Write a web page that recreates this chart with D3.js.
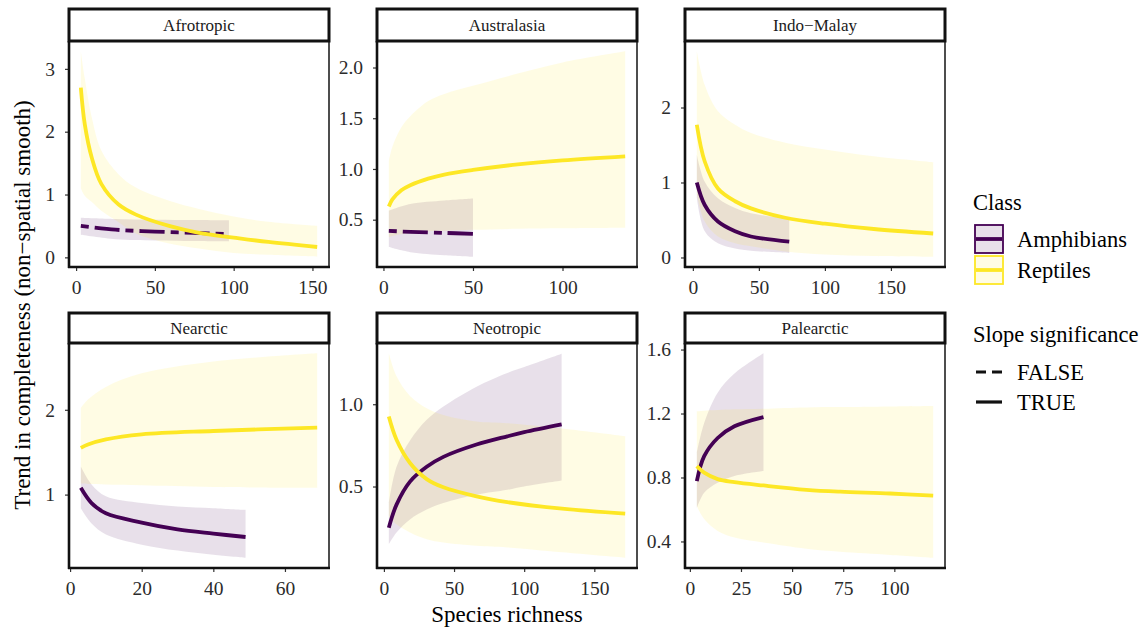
<!DOCTYPE html>
<html>
<head>
<meta charset="utf-8">
<script src="https://cdn.jsdelivr.net/npm/d3@7"></script>
<style>
  body { margin: 0; background: #fff; }
  svg text { font-family: "Liberation Serif", "DejaVu Serif", serif; }
</style>
</head>
<body>
<svg id="chart" width="1148" height="629"></svg>
<script>
// region names (facet order)
const regions = ["Afrotropic", "Australasia", "Indo\u2212Malay", "Nearctic", "Neotropic", "Palearctic"];
const classes = ["Amphibians", "Reptiles"];

// each row: [species richness, fit, lower, upper]
const afroAmph = [[3, 0.50, 0.36, 0.63], [25, 0.44, 0.29, 0.61], [50, 0.41, 0.27, 0.60], [75, 0.39, 0.26, 0.595], [97, 0.37, 0.255, 0.59]];
const afroRept = [[3, 2.70, 1.10, 3.28], [5.5, 2.12, 0.98, 2.85], [10, 1.58, 0.88, 2.22], [16, 1.17, 0.74, 1.70], [27, 0.84, 0.56, 1.32],
                  [38, 0.68, 0.38, 1.11], [59, 0.50, 0.22, 0.90], [78, 0.39, 0.14, 0.77], [100, 0.315, 0.07, 0.65], [122, 0.245, 0.04, 0.565], [153, 0.165, 0.01, 0.50]];

const austAmph = [[3, 0.39, 0.23, 0.59], [15, 0.38, 0.18, 0.655], [34, 0.37, 0.15, 0.69], [50, 0.36, 0.135, 0.71]];
const austRept = [[3, 0.63, 0.33, 1.08], [5, 0.70, 0.34, 1.22], [10, 0.79, 0.36, 1.41], [15, 0.84, 0.37, 1.52], [25, 0.905, 0.385, 1.67], [34, 0.945, 0.39, 1.74],
                  [50, 0.99, 0.40, 1.82], [75, 1.045, 0.41, 1.94], [100, 1.085, 0.415, 2.05], [135, 1.125, 0.42, 2.16]];

const indoAmph = [[3, 1.00, 0.80, 1.37], [9, 0.70, 0.35, 1.01], [19, 0.48, 0.19, 0.79], [32, 0.35, 0.12, 0.66], [44, 0.28, 0.09, 0.59], [73, 0.21, 0.06, 0.52]];
const indoRept = [[3, 1.77, 0.84, 2.75], [9, 1.28, 0.48, 2.30], [19, 0.92, 0.28, 1.95], [32, 0.75, 0.19, 1.77], [44, 0.655, 0.15, 1.66],
                  [70, 0.53, 0.08, 1.53], [100, 0.45, 0.04, 1.44], [137, 0.38, 0.02, 1.35], [182, 0.32, 0.01, 1.27]];

const nearAmph = [[3, 1.08, 0.84, 1.33], [6, 0.90, 0.66, 1.12], [10, 0.78, 0.53, 0.98], [20, 0.67, 0.41, 0.90], [30, 0.59, 0.34, 0.86], [40, 0.54, 0.29, 0.84], [49, 0.50, 0.255, 0.82]];
const nearRept = [[3, 1.55, 1.13, 2.02], [5, 1.59, 1.125, 2.12], [10, 1.65, 1.12, 2.27], [20, 1.71, 1.11, 2.43], [40, 1.75, 1.09, 2.57], [69, 1.79, 1.08, 2.667]];

const neoAmph = [[3.5, 0.25, 0.149, 0.40], [9, 0.39, 0.22, 0.62], [18.6, 0.53, 0.30, 0.78], [30.5, 0.62, 0.36, 0.905], [42.4, 0.68, 0.40, 0.986],
                 [66, 0.755, 0.45, 1.107], [88, 0.805, 0.48, 1.19], [100, 0.83, 0.50, 1.226], [126.7, 0.877, 0.536, 1.307]];
const neoRept = [[3.5, 0.925, 0.32, 1.31], [9, 0.784, 0.27, 1.17], [18.6, 0.643, 0.22, 1.05], [30.5, 0.545, 0.18, 0.976], [42.4, 0.495, 0.16, 0.935],
                 [66, 0.44, 0.14, 0.895], [88, 0.405, 0.13, 0.885], [127, 0.365, 0.10, 0.853], [172, 0.335, 0.067, 0.806]];

const paleAmph = [[3.4, 0.777, 0.61, 0.954], [7, 0.933, 0.705, 1.14], [13.6, 1.047, 0.767, 1.33], [21.8, 1.12, 0.809, 1.45], [36, 1.178, 0.84, 1.577]];
const paleRept = [[3.4, 0.871, 0.62, 1.214], [7, 0.83, 0.54, 1.218], [13.6, 0.79, 0.466, 1.222], [21.8, 0.771, 0.424, 1.226], [36, 0.75, 0.393, 1.23],
                  [57, 0.723, 0.354, 1.238], [73.5, 0.711, 0.335, 1.24], [98, 0.70, 0.316, 1.244], [119, 0.686, 0.298, 1.247]];

const amphibians = [afroAmph, austAmph, indoAmph, nearAmph, neoAmph, paleAmph];
const reptiles = [afroRept, austRept, indoRept, nearRept, neoRept, paleRept];
const amphSignificant = [false, false, true, true, true, true];
const reptSignificant = [true, true, true, true, true, true];

const xTicks = [[0, 50, 100, 150], [0, 50, 100], [0, 50, 100, 150], [0, 20, 40, 60], [0, 50, 100, 150], [0, 25, 50, 75, 100]];
const yTicks = [[0, 1, 2, 3], [0.5, 1.0, 1.5, 2.0], [0, 1, 2], [1, 2], [0.5, 1.0], [0.4, 0.8, 1.2, 1.6]];
const yDecimals = [false, true, false, false, true, true];

const colors = { Amphibians: "#440154", Reptiles: "#FDE725" };
const fillAlpha = 0.12;
const dashFalse = "8,6,25,6";
const serif = "'Liberation Serif', 'DejaVu Serif', serif";

const svg = d3.select("#chart");

// layout
const panelW = 260;
const colX = [69, 377, 685];
const stripTop = [9, 313];
const plotTop = [41, 343];
const plotBottom = [267, 568];

const curve = d3.curveCatmullRom.alpha(0.5);

regions.forEach((name, i) => {
    const col = i % 3, row = Math.floor(i / 3);
    const ph = plotBottom[row] - plotTop[row];
    const g = svg.append("g").attr("transform", `translate(${colX[col]},${plotTop[row]})`);

    const series = [
        { cls: "Amphibians", data: amphibians[i], sig: amphSignificant[i] },
        { cls: "Reptiles", data: reptiles[i], sig: reptSignificant[i] }
    ];
    const all = amphibians[i].concat(reptiles[i]);
    const xe = d3.extent(all, d => d[0]);
    const ye = [d3.min(all, d => d[2]), d3.max(all, d => d[3])];
    const dx = xe[1] - xe[0], dy = ye[1] - ye[0];

    const x = d3.scaleLinear().domain([xe[0] - 0.05 * dx, xe[1] + 0.05 * dx]).range([0, panelW]);
    const y = d3.scaleLinear().domain([ye[0] - 0.05 * dy, ye[1] + 0.05 * dy]).range([ph, 0]);

    const area = d3.area()
        .x(d => x(d[0])).y0(d => y(d[2])).y1(d => y(d[3]))
        .curve(curve);
    const line = d3.line()
        .x(d => x(d[0])).y(d => y(d[1]))
        .curve(curve);

    // ribbons
    series.forEach(s => {
        g.append("path")
            .datum(s.data)
            .attr("d", area)
            .attr("fill", colors[s.cls])
            .attr("fill-opacity", fillAlpha);
    });
    // fitted lines
    series.forEach(s => {
        g.append("path")
            .datum(s.data)
            .attr("d", line)
            .attr("fill", "none")
            .attr("stroke", colors[s.cls])
            .attr("stroke-width", 3.8)
            .attr("stroke-dasharray", s.sig ? null : dashFalse);
    });

    // axes
    const fmt = yDecimals[i] ? d3.format(".1f") : d3.format("d");
    const ya = g.append("g")
        .call(d3.axisLeft(y).tickValues(yTicks[i]).tickFormat(fmt).tickSize(4).tickPadding(10));
    const xa = g.append("g")
        .attr("transform", `translate(0,${ph})`)
        .call(d3.axisBottom(x).tickValues(xTicks[i]).tickSize(4).tickPadding(9));
    [ya, xa].forEach(a => {
        a.attr("font-family", serif);
        a.select(".domain").remove();
        a.selectAll(".tick line").attr("stroke", "#333").attr("stroke-width", 1.2);
        a.selectAll(".tick text")
            .attr("fill", "#2b2b2b")
            .style("font-size", "19.5px")
            .style("font-family", serif);
    });

    // panel border + axis lines
    g.append("rect")
        .attr("x", 0).attr("y", 0).attr("width", panelW).attr("height", ph)
        .attr("fill", "none").attr("stroke", "#222").attr("stroke-width", 1.6);
    g.append("line").attr("x1", 0).attr("x2", 0).attr("y1", 0).attr("y2", ph + 1)
        .attr("stroke", "#111").attr("stroke-width", 2.6);
    g.append("line").attr("x1", -1).attr("x2", panelW + 1).attr("y1", ph).attr("y2", ph)
        .attr("stroke", "#111").attr("stroke-width", 2.6);

    // strip
    const sh = plotTop[row] - stripTop[row];
    g.append("rect")
        .attr("x", 0).attr("y", -sh).attr("width", panelW).attr("height", sh)
        .attr("fill", "#fff").attr("stroke", "#111").attr("stroke-width", 3);
    g.append("text")
        .attr("x", panelW / 2).attr("y", -sh / 2)
        .attr("text-anchor", "middle").attr("dominant-baseline", "central")
        .attr("fill", "#1a1a1a")
        .style("font-size", "17px")
        .text(name);
});

// axis titles
svg.append("text")
    .attr("transform", "translate(30,305) rotate(-90)")
    .attr("text-anchor", "middle")
    .style("font-size", "23px")
    .text("Trend in completeness (non\u2212spatial smooth)");

svg.append("text")
    .attr("x", 507).attr("y", 622)
    .attr("text-anchor", "middle")
    .style("font-size", "23px")
    .text("Species richness");

// legend: Class
const lg = svg.append("g");
lg.append("text").attr("x", 973).attr("y", 210).style("font-size", "22.5px").text("Class");
classes.forEach((c, k) => {
    const ky = 225 + k * 31;
    lg.append("rect")
        .attr("x", 975).attr("y", ky).attr("width", 28).attr("height", 28)
        .attr("fill", colors[c]).attr("fill-opacity", fillAlpha)
        .attr("stroke", colors[c]).attr("stroke-width", 1.8);
    lg.append("line")
        .attr("x1", 976).attr("x2", 1002).attr("y1", ky + 14).attr("y2", ky + 14)
        .attr("stroke", colors[c]).attr("stroke-width", 3.8);
    lg.append("text").attr("x", 1017).attr("y", ky + 22).style("font-size", "22.5px").text(c);
});

// legend: Slope significance
lg.append("text").attr("x", 973).attr("y", 342).style("font-size", "22.5px").text("Slope significance");
["FALSE", "TRUE"].forEach((lab, k) => {
    const ly = 372 + k * 30;
    lg.append("line")
        .attr("x1", 976).attr("x2", 1002).attr("y1", ly).attr("y2", ly)
        .attr("stroke", "#111").attr("stroke-width", 3.2)
        .attr("stroke-dasharray", lab === "FALSE" ? "10,6" : null);
    lg.append("text").attr("x", 1017).attr("y", ly + 8).style("font-size", "22.5px").text(lab);
});
</script>
</body>
</html>
